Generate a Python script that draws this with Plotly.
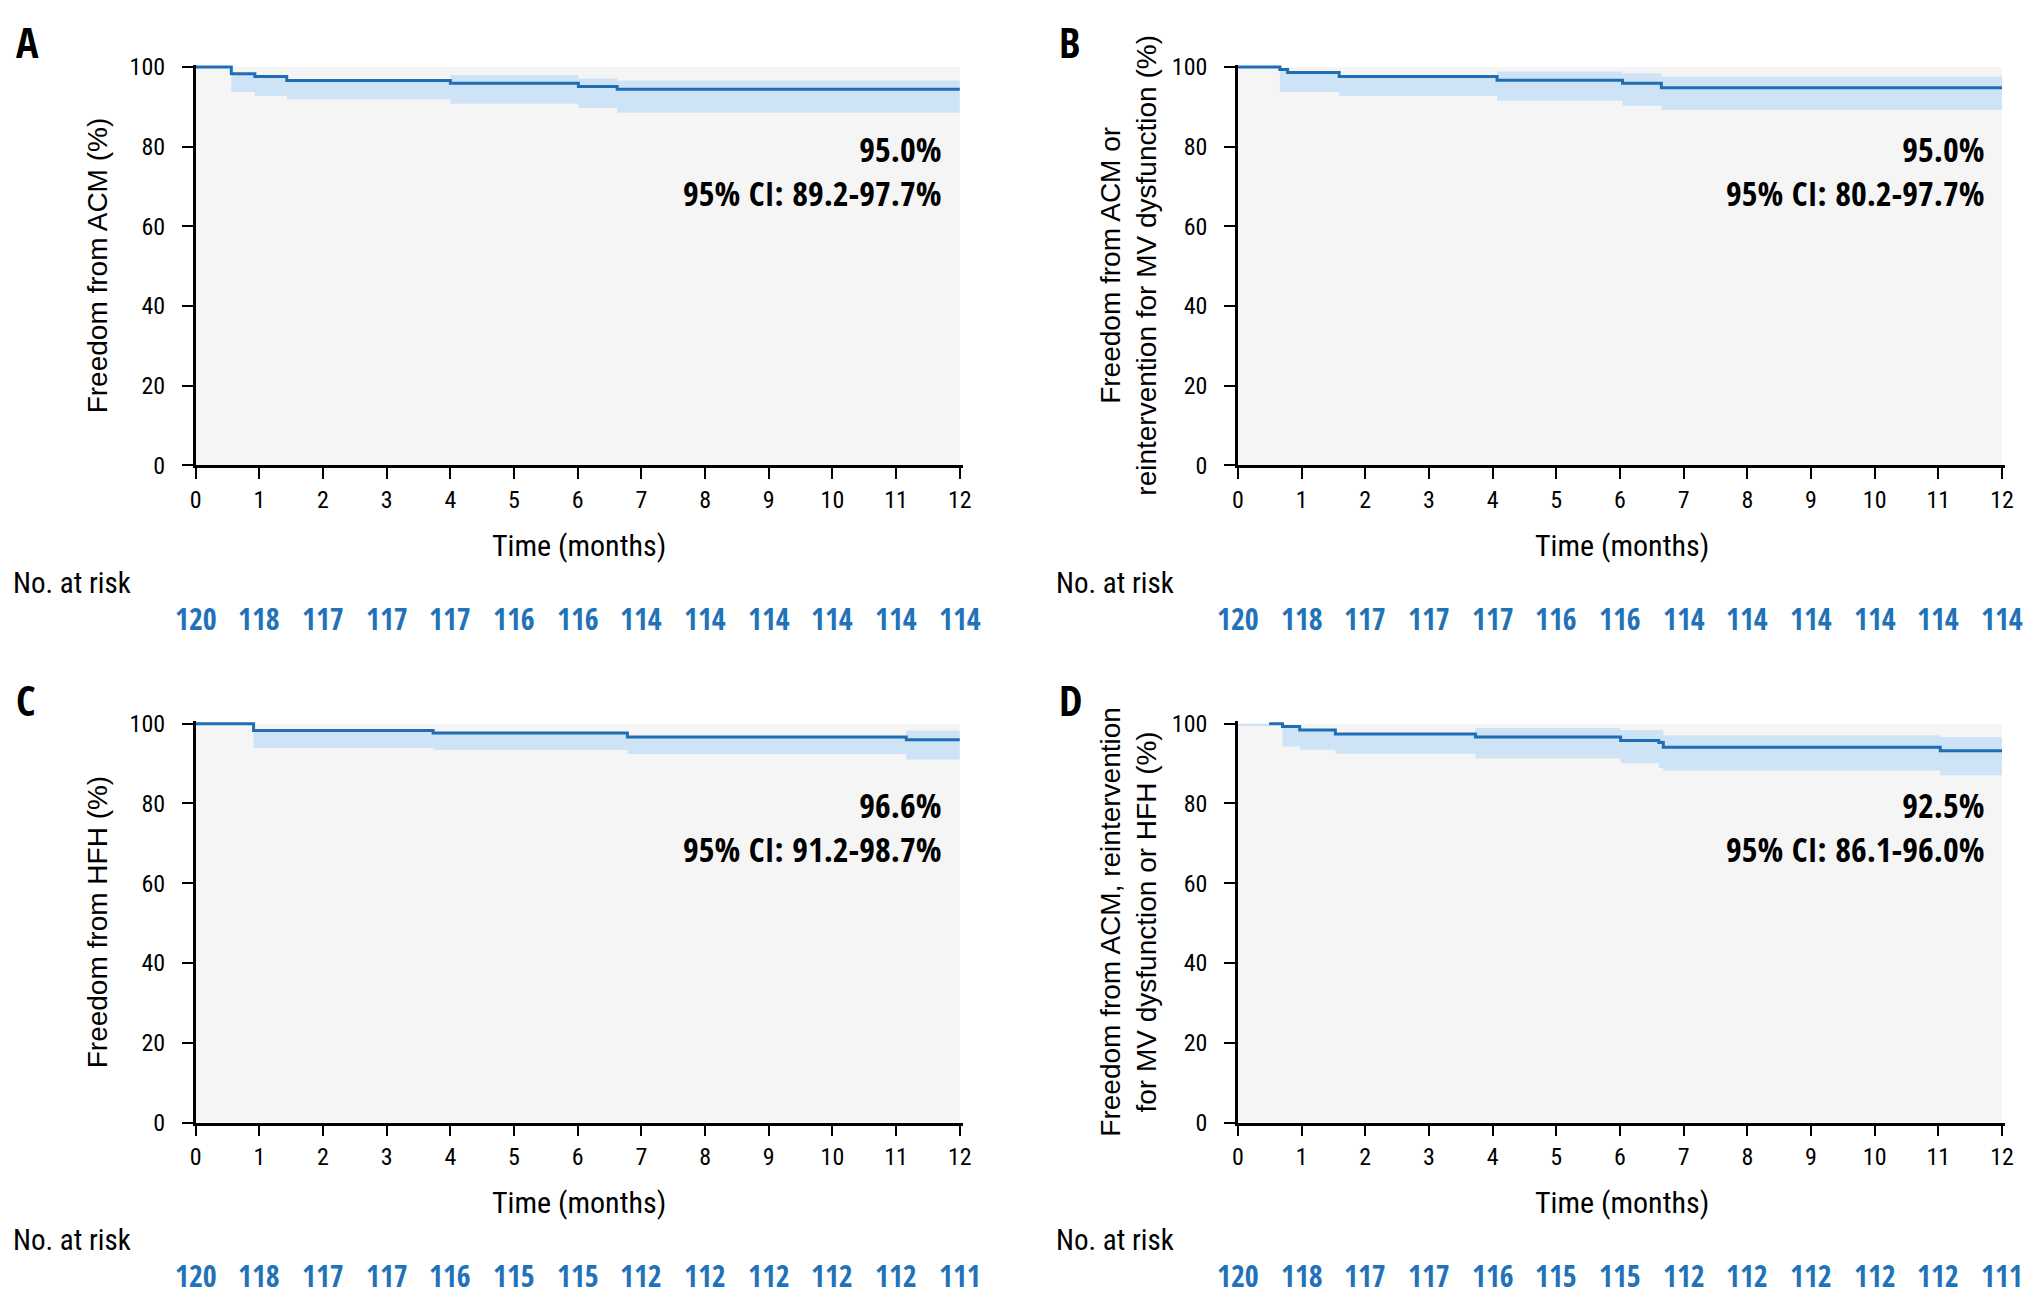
import plotly.graph_objects as go

# ---------------- data ----------------
months = list(range(0, 13))

a_t  = [0, 0.56, 0.93, 1.43, 4.0, 6.01, 6.62, 12]
a_s  = [100, 98.3, 97.6, 96.6, 95.9, 95.1, 94.4, 94.4]
a_lo = [100, 93.7, 92.7, 91.9, 90.8, 89.7, 88.5, 88.5]
a_hi = [100, 98.3, 97.6, 96.6, 98.0, 97.1, 96.6, 96.6]
a_risk = [120, 118, 117, 117, 117, 116, 116, 114, 114, 114, 114, 114, 114]

b_t  = [0, 0.66, 0.78, 1.59, 4.07, 6.04, 6.65, 12]
b_s  = [100, 99.4, 98.6, 97.6, 96.7, 95.9, 94.8, 94.8]
b_lo = [100, 93.7, 93.7, 92.7, 91.5, 90.3, 89.2, 89.2]
b_hi = [100, 99.4, 98.6, 97.6, 98.9, 98.4, 97.6, 97.6]
b_risk = [120, 118, 117, 117, 117, 116, 116, 114, 114, 114, 114, 114, 114]

c_t  = [0, 0.91, 3.73, 6.78, 11.16, 12]
c_s  = [100, 98.3, 97.7, 96.7, 96.0, 96.0]
c_lo = [100, 93.9, 93.4, 92.4, 91.0, 91.0]
c_hi = [100, 98.5, 97.9, 96.9, 98.3, 98.3]
c_risk = [120, 118, 117, 117, 116, 115, 115, 112, 112, 112, 112, 112, 111]

d_t  = [0, 0.49, 0.70, 0.97, 1.53, 3.73, 6.01, 6.61, 6.68, 11.03, 12]
d_s  = [None, 100, 99.3, 98.4, 97.4, 96.7, 95.8, 95.3, 94.1, 93.2, 93.2]
d_lo = [99.4, 100, 94.3, 93.5, 92.5, 91.3, 90.1, 88.9, 88.3, 87.1, 87.1]
d_hi = [100, 100, 99.3, 98.4, 97.4, 98.9, 98.4, 98.4, 97.1, 96.7, 96.7]
d_risk = [120, 118, 117, 117, 116, 115, 115, 112, 112, 112, 112, 112, 111]

letters = ["A", "B", "C", "D"]
y_titles = [
    "Freedom from ACM (%)",
    "Freedom from ACM or<br>reintervention for MV dysfunction (%)",
    "Freedom from HFH (%)",
    "Freedom from ACM, reintervention<br>for MV dysfunction or HFH (%)",
]
estimates = ["95.0%", "95.0%", "96.6%", "92.5%"]
ci_texts = ["95% CI: 89.2-97.7%", "95% CI: 80.2-97.7%",
            "95% CI: 91.2-98.7%", "95% CI: 86.1-96.0%"]

panels = [
    (a_t, a_s, a_lo, a_hi, a_risk),
    (b_t, b_s, b_lo, b_hi, b_risk),
    (c_t, c_s, c_lo, c_hi, c_risk),
    (d_t, d_s, d_lo, d_hi, d_risk),
]

# ---------------- style / layout ----------------
W, H = 2035, 1309
OFF = 8  # page body margin compensation
LINE = "#1f6db5"
BAND = "#cfe3f6"
BG = "#f5f5f5"
NUM = "#2272b9"
NARROW = "Roboto Condensed, Liberation Sans Narrow, sans-serif"
NARROW_B = "Open Sans Condensed, Roboto Condensed, sans-serif"
SANS = "Liberation Sans, Arial, sans-serif"


def px(x):
    return (x - OFF) / W


def py(y):
    return 1 - (y - OFF) / H


x_doms = [(191, 964), (1241, 2014)]
y_doms = [(54.5, 463), (724, 1133)]
title_y = [545, 1215]
risk_lbl_y = [583, 1253]
risk_num_y = [619, 1289]
letter_x = [8, 1059]
letter_y = [31, 702]
ytitle_x = [93, 1131]
risk_lbl_x = [5, 1056]

fig = go.Figure()
layout = dict(
    width=W, height=H, margin=dict(l=0, r=0, t=0, b=0),
    paper_bgcolor="white", plot_bgcolor="white", showlegend=False,
)
annotations = []
shapes = []

for i, (t, s, lo, hi, risk) in enumerate(panels):
    col, row = i % 2, i // 2
    xa = "x" if i == 0 else f"x{i+1}"
    ya = "y" if i == 0 else f"y{i+1}"
    xkey = "xaxis" if i == 0 else f"xaxis{i+1}"
    ykey = "yaxis" if i == 0 else f"yaxis{i+1}"
    x0, x1 = x_doms[col]
    top, bot = y_doms[row]
    layout[xkey] = dict(
        domain=[px(x0), px(x1)], range=[0, 12.05], anchor=ya,
        tickmode="array", tickvals=months, ticktext=[str(m) for m in months],
        ticks="outside", ticklen=11, tickwidth=1.5, tickcolor="black",
        showline=True, linecolor="black", linewidth=2.5, showgrid=False,
        zeroline=False, ticklabelstandoff=0,
        tickfont=dict(family=NARROW, size=24, color="black"),
    )
    layout[ykey] = dict(
        domain=[py(bot), py(top)], range=[0, 100.6], anchor=xa,
        tickmode="array", tickvals=[0, 20, 40, 60, 80, 100],
        ticks="outside", ticklen=11, tickwidth=1.5, tickcolor="black",
        showline=True, linecolor="black", linewidth=2.5, showgrid=False,
        zeroline=False, ticklabelstandoff=12,
        tickfont=dict(family=NARROW, size=24, color="black"),
    )
    shapes.append(dict(type="rect", xref=xa, yref=ya, x0=0, x1=12, y0=0, y1=100,
                       fillcolor=BG, line=dict(width=0), layer="below"))
    fig.add_trace(go.Scatter(x=t, y=lo, xaxis=xa, yaxis=ya, mode="lines",
                             line=dict(width=0, shape="hv", color=BAND),
                             hoverinfo="skip"))
    fig.add_trace(go.Scatter(x=t, y=hi, xaxis=xa, yaxis=ya, mode="lines",
                             line=dict(width=0, shape="hv", color=BAND),
                             fill="tonexty", fillcolor=BAND, hoverinfo="skip"))
    fig.add_trace(go.Scatter(x=t, y=s, xaxis=xa, yaxis=ya, mode="lines",
                             line=dict(width=3, shape="hv", color=LINE),
                             connectgaps=False))
    annotations.append(dict(text=f"<b>{letters[i]}</b>", xref="paper", yref="paper",
                            x=px(letter_x[col]), y=py(letter_y[row]),
                            xanchor="left", yanchor="middle", showarrow=False,
                            font=dict(family=NARROW_B, size=42, color="black")))
    annotations.append(dict(text=y_titles[i], xref="paper", yref="paper",
                            x=px(ytitle_x[col]), y=py((top + bot) / 2),
                            textangle=-90, xanchor="center", yanchor="middle",
                            showarrow=False,
                            font=dict(family=SANS, size=28, color="black")))
    annotations.append(dict(text="Time (months)", xref="paper", yref="paper",
                            x=px((x0 + x1) / 2), y=py(title_y[row]),
                            xanchor="center", yanchor="middle", showarrow=False,
                            font=dict(family=NARROW, size=30, color="black")))
    annotations.append(dict(text=f"<b>{estimates[i]}</b><br><b>{ci_texts[i]}</b>",
                            xref=xa, yref=ya, x=11.76, y=74.0, align="right",
                            xanchor="right", yanchor="middle", showarrow=False,
                            font=dict(family=NARROW_B, size=34, color="black")))
    annotations.append(dict(text="No. at risk", xref="paper", yref="paper",
                            x=px(risk_lbl_x[col]), y=py(risk_lbl_y[row]),
                            xanchor="left", yanchor="middle", showarrow=False,
                            font=dict(family=NARROW, size=29, color="black")))
    for m, n in zip(months, risk):
        annotations.append(dict(text=f"<b>{n}</b>", xref=xa, yref="paper",
                                x=m, y=py(risk_num_y[row]),
                                xanchor="center", yanchor="middle", showarrow=False,
                                font=dict(family=NARROW_B, size=30, color=NUM)))

layout["annotations"] = annotations
layout["shapes"] = shapes
fig.update_layout(**layout)
fig.write_html("out.html")
